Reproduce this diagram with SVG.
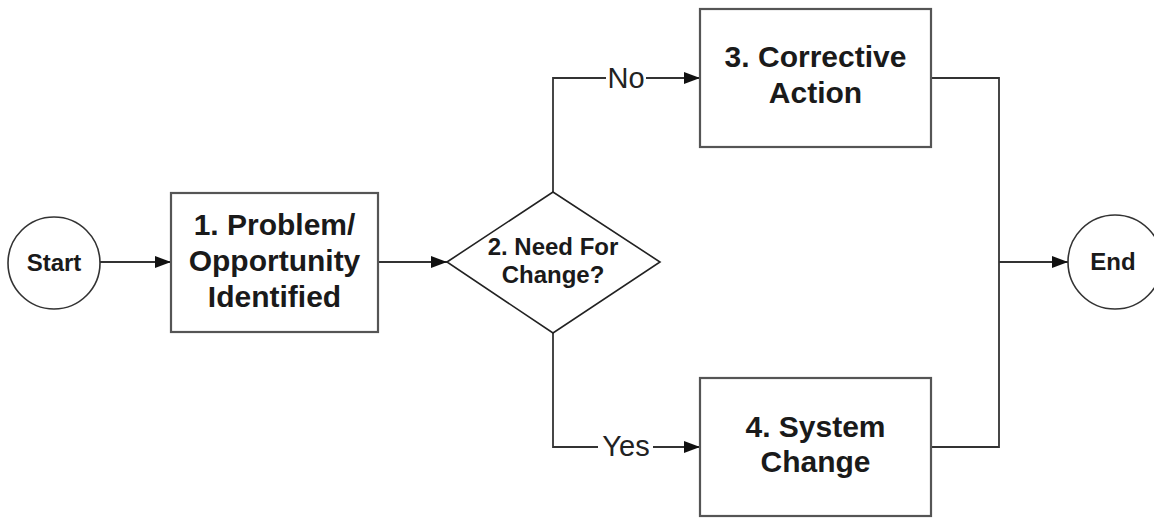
<svg xmlns="http://www.w3.org/2000/svg" width="1154" height="518" viewBox="0 0 1154 518">
<style>
.box{fill:#fff;stroke:#555;stroke-width:2.2}
.term{fill:#fff;stroke:#333;stroke-width:1.6}
.dia{fill:#fff;stroke:#222;stroke-width:1.6}
.t{font-family:"Liberation Sans",Arial,sans-serif;font-weight:bold;fill:#1a1a1a;text-anchor:middle}
.lbl{font-family:"Liberation Sans",Arial,sans-serif;fill:#222;text-anchor:middle;font-size:29px}
.c{fill:none;stroke:#333;stroke-width:1.8}
</style>
<defs>
<marker id="arr" viewBox="0 0 16 12" refX="16" refY="6" markerWidth="16" markerHeight="12" markerUnits="userSpaceOnUse" orient="auto">
<path d="M0,0 L16,6 L0,12 Z" fill="#111"/>
</marker>
</defs>
<g id="connectors">
<path class="c" d="M100,262 H171" marker-end="url(#arr)"/>
<path class="c" d="M378,262 H447" marker-end="url(#arr)"/>
<path class="c" d="M553,192 V78 H700" marker-end="url(#arr)"/>
<path class="c" d="M553,333 V447 H700" marker-end="url(#arr)"/>
<path class="c" d="M931,78 H999 V447 H931"/>
<path class="c" d="M999,262 H1068" marker-end="url(#arr)"/>
<rect x="606" y="62" width="40" height="32" fill="#fff"/>
<text class="lbl" x="626" y="88">No</text>
<rect x="598" y="431" width="55" height="32" fill="#fff"/>
<text class="lbl" x="626" y="456">Yes</text>
</g>
<g id="start">
<circle class="term" cx="54" cy="263" r="46"/>
<text class="t" x="54" y="271" font-size="24">Start</text>
</g>
<g id="n1">
<rect class="box" x="171" y="193" width="207" height="139"/>
<text class="t" font-size="30"><tspan x="274.5" y="235">1. Problem/</tspan><tspan x="274.5" y="271">Opportunity</tspan><tspan x="274.5" y="307">Identified</tspan></text>
</g>
<g id="n2">
<polygon class="dia" points="447,262 553,192 660,262 553,333"/>
<text class="t" font-size="24"><tspan x="553" y="255">2. Need For</tspan><tspan x="553" y="283">Change?</tspan></text>
</g>
<g id="n3">
<rect class="box" x="700" y="9" width="231" height="138"/>
<text class="t" font-size="30"><tspan x="815.5" y="67">3. Corrective</tspan><tspan x="815.5" y="103">Action</tspan></text>
</g>
<g id="n4">
<rect class="box" x="700" y="378" width="231" height="138"/>
<text class="t" font-size="30"><tspan x="815.5" y="437">4. System</tspan><tspan x="815.5" y="472">Change</tspan></text>
</g>
<g id="end">
<circle class="term" cx="1115" cy="262" r="47"/>
<text class="t" x="1113" y="270" font-size="24">End</text>
</g>
</svg>
